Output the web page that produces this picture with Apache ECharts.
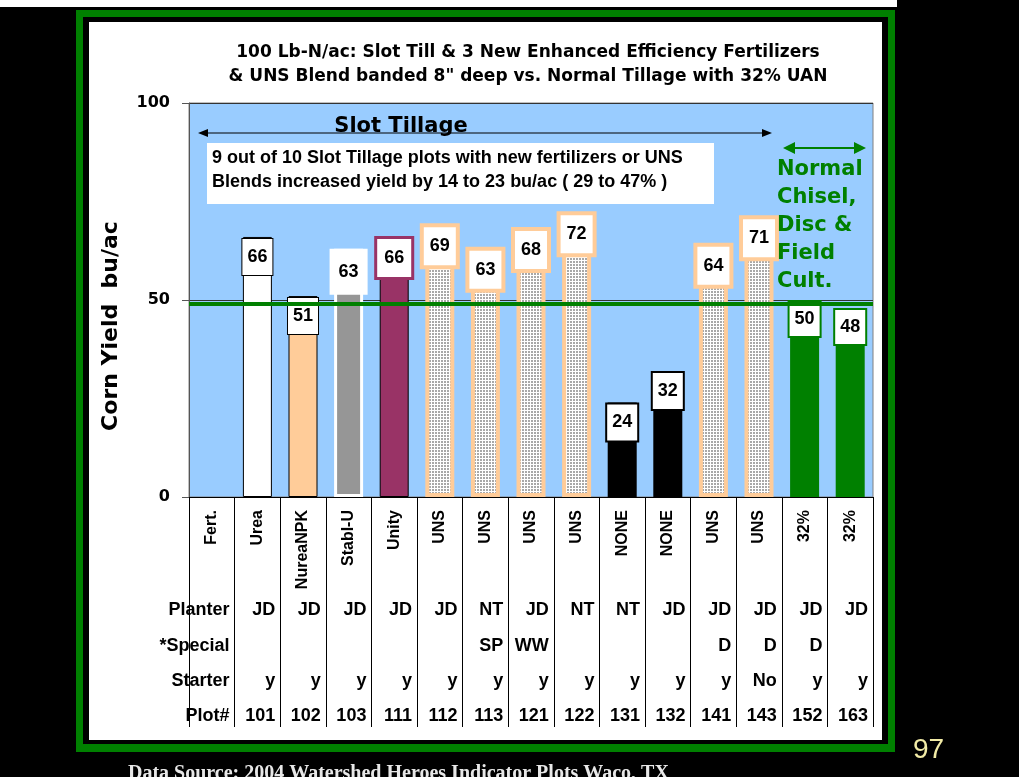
<!DOCTYPE html>
<html><head><meta charset="utf-8">
<script src="https://cdn.jsdelivr.net/npm/echarts@6/dist/echarts.min.js"></script>
<style>html,body{margin:0;padding:0;background:#000;} #c{width:1019px;height:777px;}</style>
</head><body><div id="c"></div>
<script>
// ---- data ----
const categories = ['Fert.','Urea','NureaNPK','StabI-U','Unity','UNS','UNS','UNS','UNS','NONE','NONE','UNS','UNS','32%','32%'];
const yields = [null,66,51,63,66,69,63,68,72,24,32,64,71,50,48];
const barTypes = [null,'urea','npk','stab','unity','uns','uns','uns','uns','none','none','uns','uns','uan','uan'];
const planter = ['Planter','JD','JD','JD','JD','JD','NT','JD','NT','NT','JD','JD','JD','JD','JD'];
const special = ['*Special','','','','','','SP','WW','','','','D','D','D',''];
const starter = ['Starter','y','y','y','y','y','y','y','y','y','y','y','No','y','y'];
const plotNo = ['Plot#','101','102','103','111','112','113','121','122','131','132','141','143','152','163'];
const normalTillageMean = 49;
const yMin = 0, yMax = 100, yStep = 50;
const titleLines = ['100 Lb-N/ac: Slot Till & 3 New Enhanced Efficiency Fertilizers', '& UNS Blend banded 8" deep vs. Normal Tillage with 32% UAN'];
const noteLines = ['9 out of 10 Slot Tillage plots with new fertilizers or UNS', 'Blends increased yield by 14 to 23 bu/ac ( 29 to 47% )'];
const normalLines = ['Normal', 'Chisel,', 'Disc &', 'Field', 'Cult.'];

// ---- styles ----
const FONT = '"Liberation Sans", Arial, sans-serif';
const WIDE = '"DejaVu Sans", Verdana, sans-serif';
function makePattern(){
  const cv = document.createElement('canvas'); cv.width = 3; cv.height = 3;
  const ctx = cv.getContext('2d');
  ctx.fillStyle = '#FFFFFF'; ctx.fillRect(0,0,3,3);
  ctx.fillStyle = '#A8A8A8'; ctx.fillRect(0,0,2,2);
  return {image: cv, repeat: 'repeat'};
}
const pattern = makePattern();
const styles = {
  urea:  {fill:'#FFFFFF', border:'#000000', bw:1, lb:'#000000', lbw:1, pad:[9,5]},
  npk:   {fill:'#FFCC99', border:'#000000', bw:1, lb:'#000000', lbw:1, pad:[9,5]},
  stab:  {fill:'#969696', border:'#FFFFFF', bw:3, lb:'#FFFFFF', lbw:2, pad:[12,7]},
  unity: {fill:'#993366', border:'#000000', bw:1, lb:'#993366', lbw:3, pad:[10,7]},
  uns:   {fill:pattern,   border:'#FFCC99', bw:4, lb:'#FFCC99', lbw:4, pad:[10,6]},
  none:  {fill:'#000000', border:'#000000', bw:2, lb:'#000000', lbw:2, pad:[9,5]},
  uan:   {fill:'#008000', border:'#008000', bw:2, lb:'#008000', lbw:2, pad:[8,5]}
};

const barData = yields.map((v,i)=>{
  if (v === null) return '-';
  const s = styles[barTypes[i]];
  return {
    value: v,
    itemStyle: {color: s.fill, borderColor: s.border, borderWidth: s.bw},
    label: {backgroundColor:'#FFFFFF', borderColor: s.lb, borderWidth: s.lbw, padding: s.pad}
  };
});

const chart = echarts.init(document.getElementById('c'), null, {renderer:'canvas'});

function arrowHead(x, y, dir, len, half, color){
  return {type:'polygon', z:100, shape:{points:[[x,y],[x-dir*len,y-half],[x-dir*len,y+half]]}, style:{fill:color}};
}

const graphics = [
  {type:'rect', z:-10, shape:{x:0,y:0,width:897,height:7}, style:{fill:'#FFFFFF'}},
  {type:'rect', z:-10, shape:{x:76,y:10,width:819,height:742}, style:{fill:'#008000'}},
  {type:'rect', z:-9, shape:{x:83,y:17,width:805,height:727}, style:{fill:'#000000'}},
  {type:'rect', z:-8, shape:{x:89,y:22,width:793,height:718}, style:{fill:'#FFFFFF'}},
  {type:'text', z:100, style:{text:titleLines[0], x:528, y:53, align:'center', verticalAlign:'middle', font:'bold 17px '+WIDE, fill:'#000'}},
  {type:'text', z:100, style:{text:titleLines[1], x:528, y:77, align:'center', verticalAlign:'middle', font:'bold 17px '+WIDE, fill:'#000'}},
  // y axis title
  {type:'text', z:100, x:111, y:326, rotation:Math.PI/2, style:{text:'Corn Yield  bu/ac', x:0, y:0, align:'center', verticalAlign:'middle', font:'bold 22px '+WIDE, fill:'#000'}},
  // Slot tillage arrow
  {type:'line', z:100, shape:{x1:205,y1:133,x2:765,y2:133}, style:{stroke:'#000',lineWidth:1}},
  arrowHead(198,133,-1,10,4,'#000'),
  arrowHead(772,133,1,10,4,'#000'),
  {type:'text', z:101, style:{text:'Slot Tillage', x:401, y:127, align:'center', verticalAlign:'middle', font:'bold 21px '+WIDE, fill:'#000'}},
  // note box
  {type:'rect', z:100, shape:{x:207,y:143,width:507,height:61}, style:{fill:'#FFFFFF'}},
  {type:'text', z:101, style:{text:noteLines[0], x:212, y:158, align:'left', verticalAlign:'middle', font:'bold 18px '+FONT, fill:'#000'}},
  {type:'text', z:101, style:{text:noteLines[1], x:212, y:182, align:'left', verticalAlign:'middle', font:'bold 18px '+FONT, fill:'#000'}},
  // green arrow
  {type:'line', z:100, shape:{x1:790,y1:148,x2:859,y2:148}, style:{stroke:'#008000',lineWidth:2}},
  arrowHead(783,148,-1,12,6,'#008000'),
  arrowHead(866,148,1,12,6,'#008000'),
  // page number and source
  {type:'text', z:100, style:{text:'97', x:913, y:750, align:'left', verticalAlign:'middle', font:'28px '+FONT, fill:'#F2EBA6'}},
  {type:'text', z:100, style:{text:'Data Source: 2004 Watershed Heroes Indicator Plots Waco, TX', x:128, y:764, align:'left', verticalAlign:'top', font:'bold 20px "Liberation Serif", "Times New Roman", serif', fill:'#E8E8E8'}}
];
normalLines.forEach((t,k)=>{
  graphics.push({type:'text', z:100, style:{text:t, x:777, y:170+k*28, align:'left', verticalAlign:'middle', font:'bold 21px '+WIDE, fill:'#008000'}});
});

const tableRows = [planter, special, starter, plotNo];
const rowOffsets = [113,149,184,219];

chart.setOption({
  backgroundColor:'#000000',
  animation:false,
  textStyle:{fontFamily:FONT},
  grid:{left:189, right:146, top:103, bottom:280, show:true, backgroundColor:'#99CCFF', borderColor:'#808080', borderWidth:1},
  xAxis:{type:'category', data:categories, boundaryGap:true,
    axisLine:{show:true, lineStyle:{color:'#000', width:1}},
    axisTick:{show:true, interval:0, length:230, lineStyle:{color:'#000', width:1}},
    axisLabel:{interval:0, rotate:90, margin:13, fontSize:16, fontWeight:'bold', color:'#000', fontFamily:FONT},
    splitLine:{show:false}},
  yAxis:{type:'value', min:yMin, max:yMax, interval:yStep,
    axisLine:{show:true, lineStyle:{color:'#555', width:1}},
    axisTick:{show:true, length:7, lineStyle:{color:'#555'}},
    axisLabel:{margin:19, fontSize:16, fontWeight:'bold', color:'#000', fontFamily:WIDE},
    splitLine:{show:true, lineStyle:{color:'#333', width:1}}},
  graphic: graphics,
  series:[
    {type:'bar', data:barData, barWidth:29, z:3,
      label:{show:true, position:'insideTop', distance:2, fontSize:18, fontWeight:'bold', color:'#000', fontFamily:FONT},
      markLine:{silent:true, symbol:'none', label:{show:false}, data:[{yAxis:normalTillageMean}],
        lineStyle:{color:'#008000', width:4, type:'solid'}}
    },
    {type:'custom', silent:true, z:5, clip:false,
      data: categories.map((c,i)=>[i,0]),
      renderItem(params, api){
        const i = params.dataIndex;
        const p = api.coord([i,0]);
        const w = api.size([1,0])[0];
        const xr = p[0] + w/2 - 5;
        return {type:'group', children: tableRows.map((r,k)=>({
          type:'text', style:{text:r[i], x:xr, y:p[1]+rowOffsets[k], align:'right', verticalAlign:'middle', font:'bold 18px '+FONT, fill:'#000'}
        }))};
      }
    }
  ]
});
</script></body></html>
